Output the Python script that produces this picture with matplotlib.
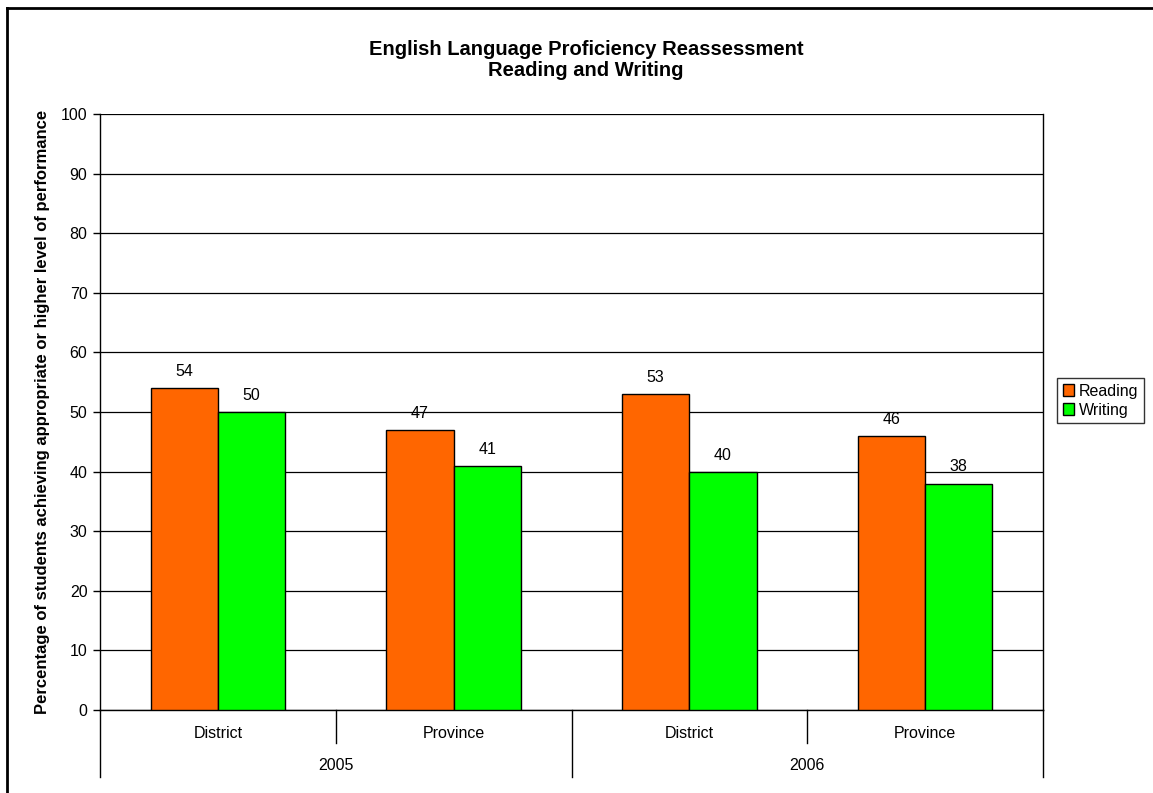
import matplotlib
matplotlib.use("Agg")
import matplotlib.pyplot as plt
from matplotlib.lines import Line2D
from matplotlib.patches import Patch
import matplotlib.transforms as mtransforms

plt.rcParams['font.family'] = ['Liberation Sans', 'DejaVu Sans']

title = "English Language Proficiency Reassessment\nReading and Writing"
ylabel = "Percentage of students achieving appropriate or higher level of performance"
groups = ["District", "Province", "District", "Province"]
years = ["2005", "2006"]
series_names = ["Reading", "Writing"]
reading = [54, 47, 53, 46]
writing = [50, 41, 40, 38]
colors = ["#FF6600", "#00FF00"]

W, H = 1153, 793
fig = plt.figure(figsize=(W / 100, H / 100), dpi=100)
ax = fig.add_axes([100 / W, 1 - 710 / H, 943 / W, 596 / H])

n = len(groups)
bw = 2 / 3.5 / 2
xs = list(range(n))
for i, (vals, c) in enumerate(zip([reading, writing], colors)):
    off = (i - 0.5) * bw
    bars = ax.bar([x + off for x in xs], vals, width=bw, color=c, edgecolor="black",
                  linewidth=1.0, zorder=3, label=series_names[i])
    for b, v in zip(bars, vals):
        ax.annotate(f"{v}", (b.get_x() + b.get_width() / 2, v), xytext=(0, 6.5),
                    textcoords="offset points", ha="center", va="bottom", fontsize=11.5)

ax.set_xlim(-0.5, n - 0.5)
ax.set_ylim(0, 100)
ax.set_yticks(range(0, 101, 10))
ax.tick_params(axis="y", labelsize=11.5, length=5, width=1, direction="out", pad=4)
ax.set_xticks([])
ax.grid(axis="y", color="black", linewidth=0.9, zorder=0)
for s in ax.spines.values():
    s.set_linewidth(1.0)
ax.spines["top"].set_visible(False)

ax.set_ylabel(ylabel, fontsize=12, fontweight="bold", labelpad=8)
fig.text(586 / W, 1 - 60 / H, title, ha="center", va="center", fontsize=14.5,
         fontweight="bold", linespacing=1.15)

# category axis
trans = mtransforms.blended_transform_factory(ax.transData, ax.transAxes)
h_ax = 596
for i, g in enumerate(groups):
    ax.text(i, -(733 - 710) / h_ax, g, transform=trans, ha="center", va="center", fontsize=11.5)
for j, y in enumerate(years):
    ax.text(2 * j + 0.5, -(766 - 710) / h_ax, y, transform=trans, ha="center", va="center", fontsize=11.5)
for x in [0.5, 2.5]:
    ax.add_line(Line2D([x, x], [0, -(743 - 710) / h_ax], transform=trans, color="black",
                       linewidth=1.0, clip_on=False))
for x in [-0.5, 1.5, 3.5]:
    ax.add_line(Line2D([x, x], [0, -(777 - 710) / h_ax], transform=trans, color="black",
                       linewidth=1.0, clip_on=False))

handles = [Patch(facecolor=c, edgecolor="black", label=s) for c, s in zip(colors, series_names)]
leg = fig.legend(handles=handles, loc="upper left", bbox_to_anchor=(1057 / W, 1 - 378 / H),
                 fontsize=11.5, frameon=True, fancybox=False, handlelength=0.7, handleheight=0.7,
                 handletextpad=0.3, borderpad=0.35, labelspacing=0.25, borderaxespad=0)
leg.get_frame().set_edgecolor("black")
leg.get_frame().set_linewidth(1.0)

# figure border (left and top)
fig.add_artist(Line2D([7 / W, 7 / W], [0, 1 - 8 / H], transform=fig.transFigure, color="black", linewidth=2))
fig.add_artist(Line2D([7 / W, 1], [1 - 8 / H, 1 - 8 / H], transform=fig.transFigure, color="black", linewidth=2))

fig.savefig("out.png", dpi=100)
